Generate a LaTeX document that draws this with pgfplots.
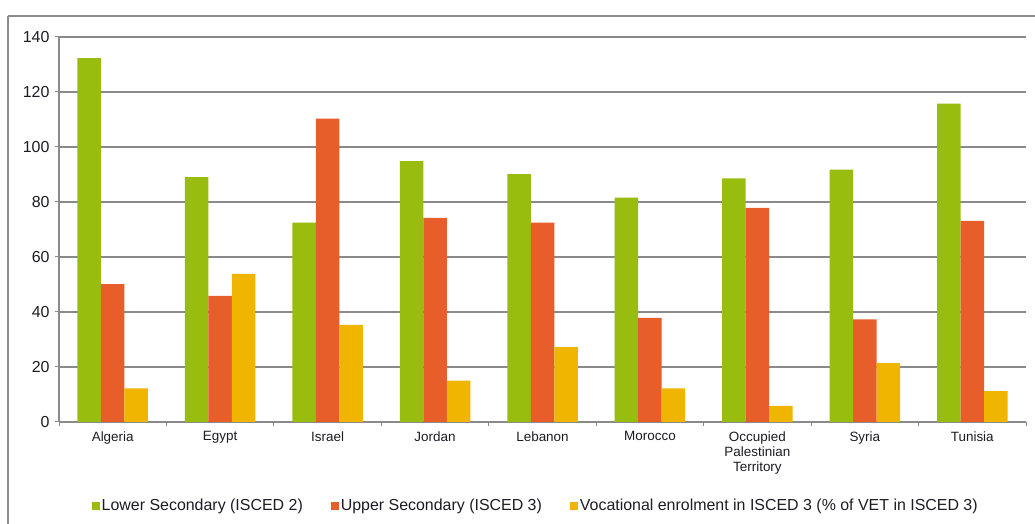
\documentclass[border=0pt]{standalone}
\usepackage{pgfplots}
\pgfplotsset{compat=1.18}
\usepackage{fontspec}
\setmainfont{Liberation Sans}

\definecolor{lowsec}{HTML}{98BD0E}
\definecolor{uppsec}{HTML}{E85E2B}
\definecolor{voc}{HTML}{F0B500}
\definecolor{gridgray}{HTML}{8A8A8A}
\definecolor{framegray}{HTML}{8C8C8C}
\definecolor{txt}{HTML}{1C1C24}

% Enrolment rates by country (index 0..8)
\pgfplotstableread{
x lower upper voc
0 132.3 50.1 12.2
1 89.0  45.9 53.9
2 72.5  110.3 35.3
3 94.9  74.2 15.0
4 90.1  72.5 27.2
5 81.6  37.9 12.2
6 88.6  77.9 5.9
7 91.8  37.3 21.4
8 115.8 73.1 11.2
}\enrol

\begin{document}
\begin{tikzpicture}[x=1bp,y=1bp]
\useasboundingbox (0,0) rectangle (1035,524);
\begin{scope}
\clip (0,0) rectangle (1035,524);
\fill[white] (0,0) rectangle (1035,524);
\draw[framegray, line width=1.2bp] (8,508) -- (1045,508);
\draw[framegray, line width=1.2bp] (8,508) -- (8,-10);
\end{scope}
\begin{axis}[
  at={(59bp,102bp)}, anchor=south west,
  scale only axis,
  width=967bp, height=385bp,
  ymin=0, ymax=140,
  ytick={0,20,...,140},
  xmin=-0.5, xmax=8.5,
  xtick={-0.5,0.5,...,8.5},
  x tick label as interval,
  xticklabels={Algeria,Egypt,Israel,Jordan,Lebanon,Morocco,{Occupied\\Palestinian\\Territory},Syria,Tunisia},
  axis lines*=left,
  axis line style={gridgray, line width=1.2bp},
  tick style={gridgray, line width=1bp},
  tick align=outside,
  major tick length=4bp,
  ymajorgrids,
  grid style={gridgray, line width=1.3bp},
  /pgf/number format/assume math mode=true,
  yticklabel style={font=\fontsize{16}{19}\selectfont, text=txt, xshift=-2bp},
  xticklabel style={font=\fontsize{13.5}{15}\selectfont, text=txt, align=center, yshift=-2bp},
  ybar, bar width=23.5bp,
  legend columns=3,
  legend style={draw=none, fill=none, at={(0.493,-0.218)}, anchor=center,
    font=\fontsize{16}{19}\selectfont, text=txt,
    /tikz/every even column/.append style={column sep=26bp}},
  legend image code/.code={\fill[#1] (0bp,-4bp) rectangle (8bp,4bp);},
]
\addplot[fill=lowsec, draw=none, bar shift=-23.5bp] table[x=x, y=lower] {\enrol};
\addplot[fill=uppsec, draw=none, bar shift=0bp] table[x=x, y=upper] {\enrol};
\addplot[fill=voc, draw=none, bar shift=23.5bp] table[x=x, y=voc] {\enrol};
\legend{Lower Secondary (ISCED 2), Upper Secondary (ISCED 3), Vocational enrolment in ISCED 3 (\% of VET in ISCED 3)}
\end{axis}
\end{tikzpicture}
\end{document}
